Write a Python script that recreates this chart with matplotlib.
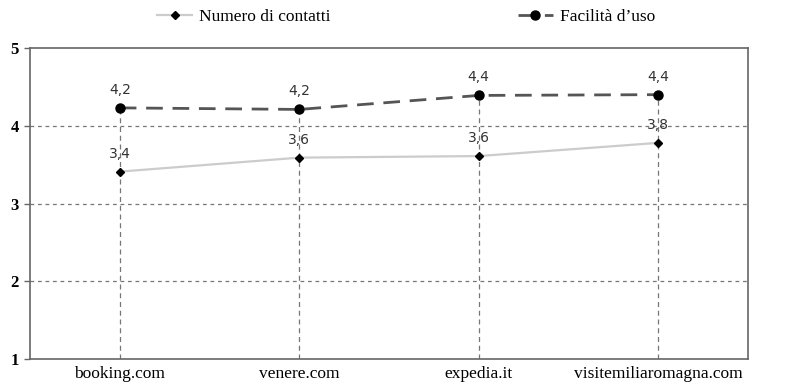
import matplotlib.pyplot as plt

sites = ["booking.com", "venere.com", "expedia.it", "visitemiliaromagna.com"]
contatti = [3.41, 3.59, 3.61, 3.78]
facilita = [4.23, 4.21, 4.39, 4.40]
contatti_lbl = ["3,4", "3,6", "3,6", "3,8"]
facilita_lbl = ["4,2", "4,2", "4,4", "4,4"]

serif = "Liberation Serif"

fig = plt.figure(figsize=(8.01, 3.86), dpi=100)
ax = fig.add_axes([30 / 801, 27 / 386, 718 / 801, 311 / 386])

x = list(range(len(sites)))

# drop lines and horizontal grid
ax.vlines(x, 1, facilita, colors="#777777", linestyles=(0, (4, 3)), linewidth=0.9, zorder=1)
for y in [2, 3, 4]:
    ax.axhline(y, color="#777777", linestyle=(0, (3, 3)), linewidth=0.9, zorder=1)

ax.plot(x, contatti, color="#cccccc", linewidth=1.6, marker="D", markersize=4.5,
        markerfacecolor="black", markeredgecolor="black", label="Numero di contatti", zorder=3)
ax.plot(x, facilita, color="#555555", linewidth=2.0, linestyle=(0, (6, 3.5)), marker="o",
        markersize=6.5, markerfacecolor="black", markeredgecolor="black",
        label="Facilità d\u2019uso", zorder=3)

for xi, v, t in zip(x, contatti, contatti_lbl):
    ax.annotate(t, (xi, v), xytext=(0, 8), textcoords="offset points", ha="center",
                va="bottom", fontsize=10, color="#333333", family="DejaVu Sans")
for xi, v, t in zip(x, facilita, facilita_lbl):
    ax.annotate(t, (xi, v), xytext=(0, 8), textcoords="offset points", ha="center",
                va="bottom", fontsize=10, color="#333333", family="DejaVu Sans")

ax.set_xlim(-0.5, 3.5)
ax.set_ylim(1, 5)
ax.set_yticks([1, 2, 3, 4, 5])
ax.set_xticks(x)
ax.set_xticklabels(sites, family=serif, fontsize=12.5)
ax.set_yticklabels(["1", "2", "3", "4", "5"], family=serif, fontsize=12, fontweight="bold")
ax.tick_params(axis="x", length=0, pad=5)
ax.tick_params(axis="y", length=4, width=1, color="#666666", pad=4)
for s in ax.spines.values():
    s.set_color("#666666")
    s.set_linewidth(1.2)

fig.legend(loc="center", bbox_to_anchor=(0.507, 0.955), ncol=2, frameon=False,
           prop={"family": serif, "size": 12.5}, handlelength=2.0, columnspacing=10.8,
           handletextpad=0.4)

fig.savefig("out.png", dpi=100)
